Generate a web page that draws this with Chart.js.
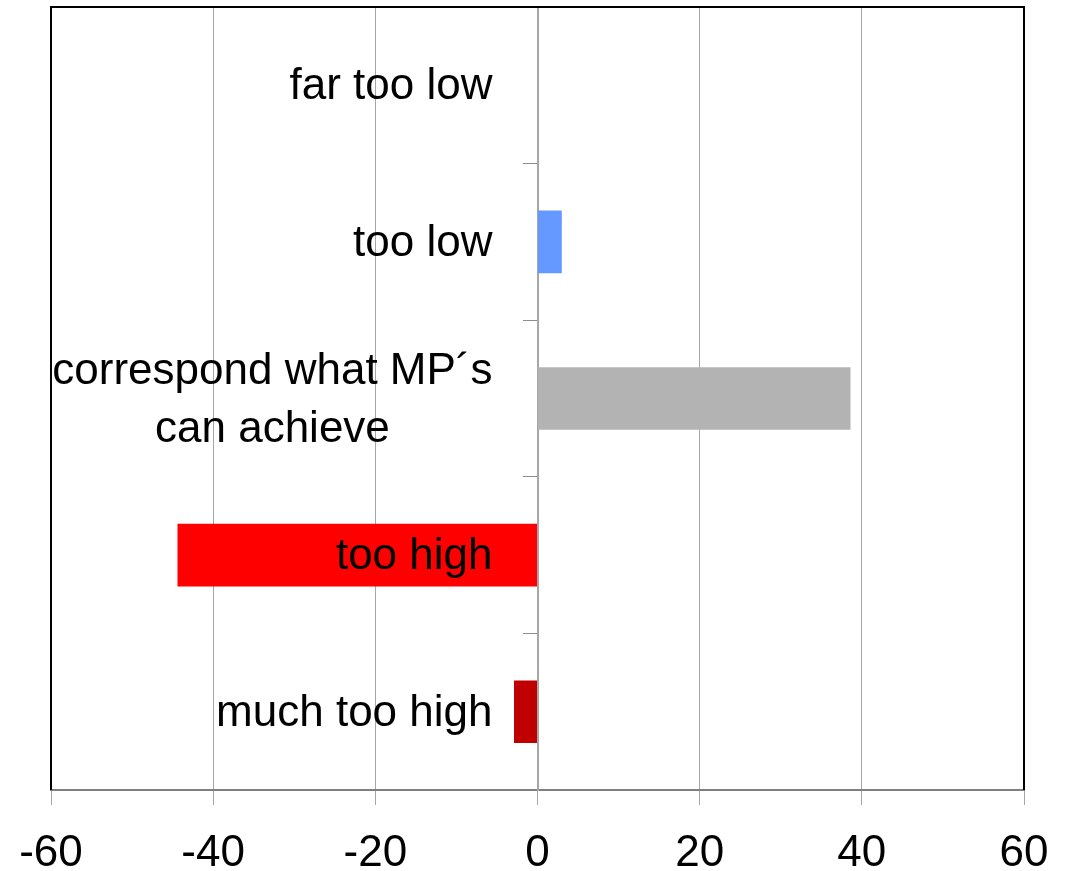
<!DOCTYPE html>
<html>
<head>
<meta charset="utf-8">
<script src="https://cdn.jsdelivr.net/npm/chart.js@4.4.1/dist/chart.umd.min.js"></script>
<style>
  html, body { margin: 0; padding: 0; background: #fff; }
  #wrap { width: 1076px; height: 871px; }
</style>
</head>
<body>
<div id="wrap"><canvas id="chart"></canvas></div>
<script>
// categories, top to bottom
const categories = ['far too low', 'too low', ['correspond what MP\u00b4s', 'can achieve'], 'too high', 'much too high'];
const values = [0, 3, 38.6, -44.4, -2.9];
const barColors = ['#6699FF', '#6699FF', '#B3B3B3', '#FF0000', '#C00000'];
const xTicks = [-60, -40, -20, 0, 20, 40, 60];

const FONT = '"Liberation Sans", Arial, sans-serif';

// category names sit left of the zero line, drawn over the bars
const labelPlugin = {
  id: 'catLabels',
  afterDatasetsDraw(chart) {
    const ctx = chart.ctx;
    const xs = chart.scales.x, ys = chart.scales.y;
    const right = xs.getPixelForValue(0) - 45;
    const lh = 58;
    ctx.save();
    ctx.font = '44px ' + FONT;
    ctx.fillStyle = '#000';
    ctx.textBaseline = 'middle';
    categories.forEach((lab, i) => {
      const y = ys.getPixelForValue(i) + 2;
      const lines = Array.isArray(lab) ? lab : [lab];
      const widest = Math.max(...lines.map(l => ctx.measureText(l).width));
      ctx.textAlign = 'center';
      lines.forEach((l, j) => {
        const ly = y + (j - (lines.length - 1) / 2) * lh;
        ctx.fillText(l, right - widest / 2, ly);
      });
    });
    ctx.restore();
  }
};

// black frame on left, top and right of the plot
const framePlugin = {
  id: 'frame',
  afterDraw(chart) {
    const { left, right, top, bottom } = chart.chartArea;
    const ctx = chart.ctx;
    ctx.save();
    ctx.strokeStyle = '#000';
    ctx.lineWidth = 2;
    ctx.beginPath();
    ctx.moveTo(left, bottom);
    ctx.lineTo(left, top);
    ctx.lineTo(right, top);
    ctx.lineTo(right, bottom);
    ctx.stroke();
    ctx.restore();
  }
};

new Chart(document.getElementById('chart'), {
  type: 'bar',
  data: {
    labels: categories,
    datasets: [{
      data: values,
      backgroundColor: barColors,
      barPercentage: 0.4,
      categoryPercentage: 1
    }]
  },
  options: {
    indexAxis: 'y',
    responsive: true,
    maintainAspectRatio: false,
    animation: false,
    layout: { padding: { left: 51, right: 52, top: 7, bottom: 0 } },
    plugins: { legend: { display: false }, tooltip: { enabled: false } },
    scales: {
      x: {
        min: -60, max: 60,
        afterBuildTicks: s => { s.ticks = xTicks.map(v => ({ value: v })); },
        afterFit: s => { s.height = 81; },
        grid: { color: '#a6a6a6', lineWidth: 1, tickLength: 15 },
        border: { color: '#7f7f7f', width: 2 },
        ticks: { font: { family: FONT, size: 44, lineHeight: 1.5 }, color: '#000', padding: 16, maxRotation: 0 }
      },
      y: {
        position: { x: 0 },
        grid: { offset: true, drawOnChartArea: false, tickLength: 14, color: '#8c8c8c' },
        border: { color: '#a6a6a6', width: 2 },
        ticks: { display: false }
      }
    }
  },
  plugins: [labelPlugin, framePlugin]
});
</script>
</body>
</html>
